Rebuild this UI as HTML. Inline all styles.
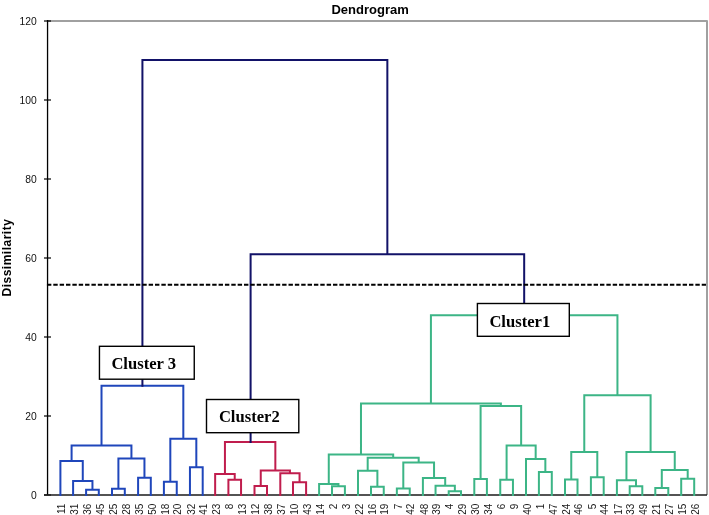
<!DOCTYPE html>
<html><head><meta charset="utf-8"><title>Dendrogram</title>
<style>html,body{margin:0;padding:0;background:#fff;width:709px;height:515px;overflow:hidden}svg{display:block;will-change:transform}</style>
</head><body>
<svg width="709" height="515" viewBox="0 0 709 515">
<rect width="709" height="515" fill="#fff"/>
<path d="M47 21H707V495" fill="none" stroke="#a0a0a0" stroke-width="2" stroke-linejoin="round"/>
<text x="370.1" y="13.7" text-anchor="middle" font-family="Liberation Sans, sans-serif" font-weight="bold" font-size="13" fill="#000">Dendrogram</text>
<text transform="translate(10.6 257.6) rotate(-90)" text-anchor="middle" font-family="Liberation Sans, sans-serif" font-weight="bold" font-size="12" letter-spacing="0.5" fill="#000">Dissimilarity</text>
<path d="M44 495H51" stroke="#000" stroke-width="1.2"/>
<text x="36.7" y="498.7" text-anchor="end" font-family="Liberation Sans, sans-serif" font-size="10.3" fill="#111">0</text>
<path d="M44 416H51" stroke="#000" stroke-width="1.2"/>
<text x="36.7" y="419.7" text-anchor="end" font-family="Liberation Sans, sans-serif" font-size="10.3" fill="#111">20</text>
<path d="M44 337H51" stroke="#000" stroke-width="1.2"/>
<text x="36.7" y="340.7" text-anchor="end" font-family="Liberation Sans, sans-serif" font-size="10.3" fill="#111">40</text>
<path d="M44 258H51" stroke="#000" stroke-width="1.2"/>
<text x="36.7" y="261.7" text-anchor="end" font-family="Liberation Sans, sans-serif" font-size="10.3" fill="#111">60</text>
<path d="M44 179H51" stroke="#000" stroke-width="1.2"/>
<text x="36.7" y="182.7" text-anchor="end" font-family="Liberation Sans, sans-serif" font-size="10.3" fill="#111">80</text>
<path d="M44 100H51" stroke="#000" stroke-width="1.2"/>
<text x="36.7" y="103.7" text-anchor="end" font-family="Liberation Sans, sans-serif" font-size="10.3" fill="#111">100</text>
<path d="M44 21H51" stroke="#000" stroke-width="1.2"/>
<text x="36.7" y="24.7" text-anchor="end" font-family="Liberation Sans, sans-serif" font-size="10.3" fill="#111">120</text>
<path d="M47.55 20V495" stroke="#000" stroke-width="1.3"/>
<path d="M44 495H707" stroke="#1a1a1a" stroke-width="1.7"/>
<path d="M101.51 385.7H183.32M101.51 385.7V445.5M71.59 445.5H131.43M71.59 445.5V461M60.4 461H82.77M60.4 461V495M82.77 461V480.9M73.1 480.9H92.45M73.1 480.9V495M92.45 480.9V489.8M86.1 489.8H98.8M86.1 489.8V495M98.8 489.8V495M131.43 445.5V458.5M118.4 458.5H144.45M118.4 458.5V488.7M112 488.7H124.8M112 488.7V495M124.8 488.7V495M144.45 458.5V477.7M138.1 477.7H150.8M138.1 477.7V495M150.8 477.7V495M183.32 385.7V438.8M170.32 438.8H196.32M170.32 438.8V481.8M163.9 481.8H176.75M163.9 481.8V495M176.75 481.8V495M196.32 438.8V467.2M189.95 467.2H202.7M189.95 467.2V495M202.7 467.2V495" fill="none" stroke="#1f46bb" stroke-width="2" stroke-linecap="square"/>
<path d="M224.94 441.9H275.34M224.94 441.9V473.9M215.15 473.9H234.73M215.15 473.9V495M234.73 473.9V479.8M228.4 479.8H241.05M228.4 479.8V495M241.05 479.8V495M275.34 441.9V470.5M260.75 470.5H289.93M260.75 470.5V485.9M254.5 485.9H267M254.5 485.9V495M267 485.9V495M289.93 470.5V473.3M280.3 473.3H299.55M280.3 473.3V495M299.55 473.3V482.2M293 482.2H306.1M293 482.2V495M306.1 482.2V495" fill="none" stroke="#c01d4d" stroke-width="2" stroke-linecap="square"/>
<path d="M430.92 315.2H617.44M430.92 315.2V403.5M360.98 403.5H500.87M360.98 403.5V454.5M328.77 454.5H393.18M328.77 454.5V484M319.1 484H338.45M319.1 484V495M338.45 484V486.3M332 486.3H344.9M332 486.3V495M344.9 486.3V495M393.18 454.5V457.8M367.69 457.8H418.68M367.69 457.8V470.8M358 470.8H377.38M358 470.8V495M377.38 470.8V486.7M371 486.7H383.75M371 486.7V495M383.75 486.7V495M418.68 457.8V462.4M403.3 462.4H434.05M403.3 462.4V488.6M396.85 488.6H409.75M396.85 488.6V495M409.75 488.6V495M434.05 462.4V478M422.9 478H445.2M422.9 478V495M445.2 478V485.7M435.55 485.7H454.85M435.55 485.7V495M454.85 485.7V491.2M448.7 491.2H461M448.7 491.2V495M461 491.2V495M500.87 403.5V406M480.6 406H521.14M480.6 406V478.9M474.3 478.9H486.9M474.3 478.9V495M486.9 478.9V495M521.14 406V445.6M506.6 445.6H535.67M506.6 445.6V479.8M500.25 479.8H512.95M500.25 479.8V495M512.95 479.8V495M535.67 445.6V459.1M526 459.1H545.35M526 459.1V495M545.35 459.1V471.9M538.9 471.9H551.8M538.9 471.9V495M551.8 471.9V495M617.44 315.2V395.3M584.27 395.3H650.6M584.27 395.3V452M571.25 452H597.3M571.25 452V479.6M565 479.6H577.5M565 479.6V495M577.5 479.6V495M597.3 452V477.3M590.9 477.3H603.7M590.9 477.3V495M603.7 477.3V495M650.6 395.3V452.1M626.45 452.1H674.75M626.45 452.1V480.2M616.9 480.2H636M616.9 480.2V495M636 480.2V486.3M629.7 486.3H642.3M629.7 486.3V495M642.3 486.3V495M674.75 452.1V470.1M661.8 470.1H687.7M661.8 470.1V488M655.3 488H668.3M655.3 488V495M668.3 488V495M687.7 470.1V478.7M681.2 478.7H694.2M681.2 478.7V495M694.2 478.7V495" fill="none" stroke="#3cb586" stroke-width="2" stroke-linecap="square"/>
<path d="M142.42 59.9H387.35M142.42 59.9V385.7M387.35 59.9V254.3M250.6 254.3H524.18M250.6 254.3V441.9M524.18 254.3V315.2" fill="none" stroke="#121268" stroke-width="2" stroke-linecap="square"/>
<path d="M46.94 284.7H706" stroke="#000" stroke-width="1.9" stroke-dasharray="4.4 1.957"/>
<text transform="translate(65.1 503.6) rotate(-90)" text-anchor="end" font-family="Liberation Sans, sans-serif" font-size="10" fill="#1a1a1a">11</text>
<text transform="translate(77.8 503.6) rotate(-90)" text-anchor="end" font-family="Liberation Sans, sans-serif" font-size="10" fill="#1a1a1a">31</text>
<text transform="translate(90.8 503.6) rotate(-90)" text-anchor="end" font-family="Liberation Sans, sans-serif" font-size="10" fill="#1a1a1a">36</text>
<text transform="translate(103.5 503.6) rotate(-90)" text-anchor="end" font-family="Liberation Sans, sans-serif" font-size="10" fill="#1a1a1a">45</text>
<text transform="translate(116.7 503.6) rotate(-90)" text-anchor="end" font-family="Liberation Sans, sans-serif" font-size="10" fill="#1a1a1a">25</text>
<text transform="translate(129.5 503.6) rotate(-90)" text-anchor="end" font-family="Liberation Sans, sans-serif" font-size="10" fill="#1a1a1a">28</text>
<text transform="translate(142.8 503.6) rotate(-90)" text-anchor="end" font-family="Liberation Sans, sans-serif" font-size="10" fill="#1a1a1a">35</text>
<text transform="translate(155.5 503.6) rotate(-90)" text-anchor="end" font-family="Liberation Sans, sans-serif" font-size="10" fill="#1a1a1a">50</text>
<text transform="translate(168.6 503.6) rotate(-90)" text-anchor="end" font-family="Liberation Sans, sans-serif" font-size="10" fill="#1a1a1a">18</text>
<text transform="translate(181.45 503.6) rotate(-90)" text-anchor="end" font-family="Liberation Sans, sans-serif" font-size="10" fill="#1a1a1a">20</text>
<text transform="translate(194.65 503.6) rotate(-90)" text-anchor="end" font-family="Liberation Sans, sans-serif" font-size="10" fill="#1a1a1a">32</text>
<text transform="translate(207.4 503.6) rotate(-90)" text-anchor="end" font-family="Liberation Sans, sans-serif" font-size="10" fill="#1a1a1a">41</text>
<text transform="translate(219.85 503.6) rotate(-90)" text-anchor="end" font-family="Liberation Sans, sans-serif" font-size="10" fill="#1a1a1a">23</text>
<text transform="translate(233.1 503.6) rotate(-90)" text-anchor="end" font-family="Liberation Sans, sans-serif" font-size="10" fill="#1a1a1a">8</text>
<text transform="translate(245.75 503.6) rotate(-90)" text-anchor="end" font-family="Liberation Sans, sans-serif" font-size="10" fill="#1a1a1a">13</text>
<text transform="translate(259.2 503.6) rotate(-90)" text-anchor="end" font-family="Liberation Sans, sans-serif" font-size="10" fill="#1a1a1a">12</text>
<text transform="translate(271.7 503.6) rotate(-90)" text-anchor="end" font-family="Liberation Sans, sans-serif" font-size="10" fill="#1a1a1a">38</text>
<text transform="translate(285 503.6) rotate(-90)" text-anchor="end" font-family="Liberation Sans, sans-serif" font-size="10" fill="#1a1a1a">37</text>
<text transform="translate(297.7 503.6) rotate(-90)" text-anchor="end" font-family="Liberation Sans, sans-serif" font-size="10" fill="#1a1a1a">10</text>
<text transform="translate(310.8 503.6) rotate(-90)" text-anchor="end" font-family="Liberation Sans, sans-serif" font-size="10" fill="#1a1a1a">43</text>
<text transform="translate(323.8 503.6) rotate(-90)" text-anchor="end" font-family="Liberation Sans, sans-serif" font-size="10" fill="#1a1a1a">14</text>
<text transform="translate(336.7 503.6) rotate(-90)" text-anchor="end" font-family="Liberation Sans, sans-serif" font-size="10" fill="#1a1a1a">2</text>
<text transform="translate(349.6 503.6) rotate(-90)" text-anchor="end" font-family="Liberation Sans, sans-serif" font-size="10" fill="#1a1a1a">3</text>
<text transform="translate(362.7 503.6) rotate(-90)" text-anchor="end" font-family="Liberation Sans, sans-serif" font-size="10" fill="#1a1a1a">22</text>
<text transform="translate(375.7 503.6) rotate(-90)" text-anchor="end" font-family="Liberation Sans, sans-serif" font-size="10" fill="#1a1a1a">16</text>
<text transform="translate(388.45 503.6) rotate(-90)" text-anchor="end" font-family="Liberation Sans, sans-serif" font-size="10" fill="#1a1a1a">19</text>
<text transform="translate(401.55 503.6) rotate(-90)" text-anchor="end" font-family="Liberation Sans, sans-serif" font-size="10" fill="#1a1a1a">7</text>
<text transform="translate(414.45 503.6) rotate(-90)" text-anchor="end" font-family="Liberation Sans, sans-serif" font-size="10" fill="#1a1a1a">42</text>
<text transform="translate(427.6 503.6) rotate(-90)" text-anchor="end" font-family="Liberation Sans, sans-serif" font-size="10" fill="#1a1a1a">48</text>
<text transform="translate(440.25 503.6) rotate(-90)" text-anchor="end" font-family="Liberation Sans, sans-serif" font-size="10" fill="#1a1a1a">39</text>
<text transform="translate(453.4 503.6) rotate(-90)" text-anchor="end" font-family="Liberation Sans, sans-serif" font-size="10" fill="#1a1a1a">4</text>
<text transform="translate(465.7 503.6) rotate(-90)" text-anchor="end" font-family="Liberation Sans, sans-serif" font-size="10" fill="#1a1a1a">29</text>
<text transform="translate(479 503.6) rotate(-90)" text-anchor="end" font-family="Liberation Sans, sans-serif" font-size="10" fill="#1a1a1a">30</text>
<text transform="translate(491.6 503.6) rotate(-90)" text-anchor="end" font-family="Liberation Sans, sans-serif" font-size="10" fill="#1a1a1a">34</text>
<text transform="translate(504.95 503.6) rotate(-90)" text-anchor="end" font-family="Liberation Sans, sans-serif" font-size="10" fill="#1a1a1a">6</text>
<text transform="translate(517.65 503.6) rotate(-90)" text-anchor="end" font-family="Liberation Sans, sans-serif" font-size="10" fill="#1a1a1a">9</text>
<text transform="translate(530.7 503.6) rotate(-90)" text-anchor="end" font-family="Liberation Sans, sans-serif" font-size="10" fill="#1a1a1a">40</text>
<text transform="translate(543.6 503.6) rotate(-90)" text-anchor="end" font-family="Liberation Sans, sans-serif" font-size="10" fill="#1a1a1a">1</text>
<text transform="translate(556.5 503.6) rotate(-90)" text-anchor="end" font-family="Liberation Sans, sans-serif" font-size="10" fill="#1a1a1a">47</text>
<text transform="translate(569.7 503.6) rotate(-90)" text-anchor="end" font-family="Liberation Sans, sans-serif" font-size="10" fill="#1a1a1a">24</text>
<text transform="translate(582.2 503.6) rotate(-90)" text-anchor="end" font-family="Liberation Sans, sans-serif" font-size="10" fill="#1a1a1a">46</text>
<text transform="translate(595.6 503.6) rotate(-90)" text-anchor="end" font-family="Liberation Sans, sans-serif" font-size="10" fill="#1a1a1a">5</text>
<text transform="translate(608.4 503.6) rotate(-90)" text-anchor="end" font-family="Liberation Sans, sans-serif" font-size="10" fill="#1a1a1a">44</text>
<text transform="translate(621.6 503.6) rotate(-90)" text-anchor="end" font-family="Liberation Sans, sans-serif" font-size="10" fill="#1a1a1a">17</text>
<text transform="translate(634.4 503.6) rotate(-90)" text-anchor="end" font-family="Liberation Sans, sans-serif" font-size="10" fill="#1a1a1a">33</text>
<text transform="translate(647 503.6) rotate(-90)" text-anchor="end" font-family="Liberation Sans, sans-serif" font-size="10" fill="#1a1a1a">49</text>
<text transform="translate(660 503.6) rotate(-90)" text-anchor="end" font-family="Liberation Sans, sans-serif" font-size="10" fill="#1a1a1a">21</text>
<text transform="translate(673 503.6) rotate(-90)" text-anchor="end" font-family="Liberation Sans, sans-serif" font-size="10" fill="#1a1a1a">27</text>
<text transform="translate(685.9 503.6) rotate(-90)" text-anchor="end" font-family="Liberation Sans, sans-serif" font-size="10" fill="#1a1a1a">15</text>
<text transform="translate(698.9 503.6) rotate(-90)" text-anchor="end" font-family="Liberation Sans, sans-serif" font-size="10" fill="#1a1a1a">26</text>
<rect x="99.45" y="346.3" width="94.8" height="32.9" fill="#fff" stroke="#000" stroke-width="1.4"/>
<text x="111.4" y="368.7" font-family="Liberation Serif, serif" font-weight="bold" font-size="16.6" fill="#000">Cluster 3</text>
<rect x="206.5" y="399.5" width="92.3" height="33.2" fill="#fff" stroke="#000" stroke-width="1.4"/>
<text x="218.9" y="421.5" font-family="Liberation Serif, serif" font-weight="bold" font-size="16.6" fill="#000">Cluster2</text>
<rect x="477.4" y="303.5" width="91.9" height="32.8" fill="#fff" stroke="#000" stroke-width="1.4"/>
<text x="489.4" y="326.5" font-family="Liberation Serif, serif" font-weight="bold" font-size="16.6" fill="#000">Cluster1</text>
</svg>
</body></html>
